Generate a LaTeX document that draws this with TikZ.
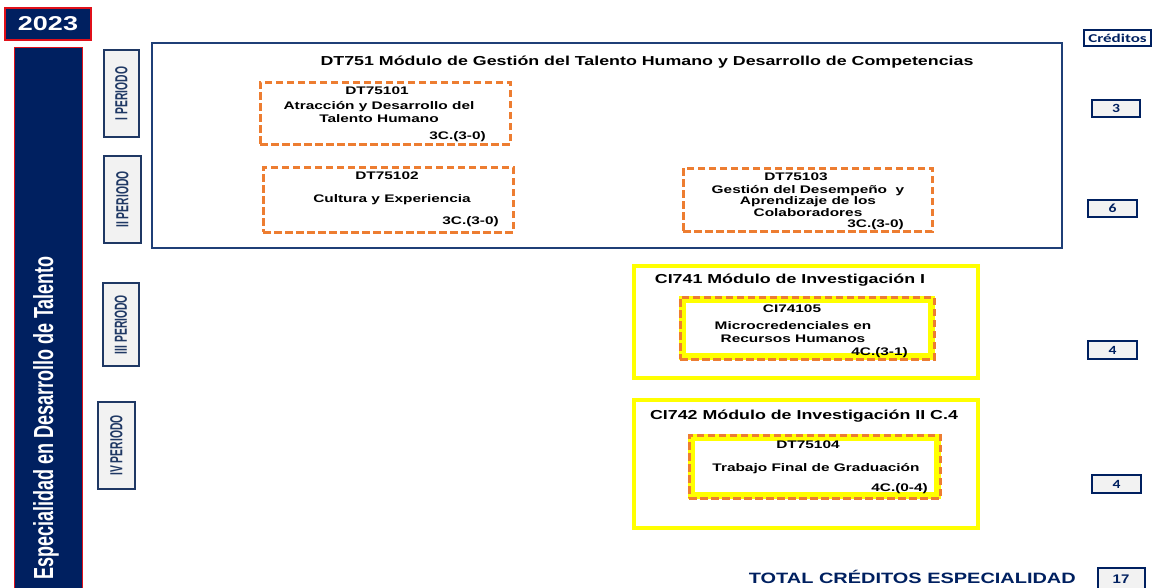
\documentclass[tikz,border=0pt]{standalone}
\usepackage{fontspec}
\usepackage{graphicx}
\setmainfont{Liberation Sans}
\newfontfamily\calfont{Carlito}
\definecolor{navy}{HTML}{002060}
\definecolor{boxblue}{HTML}{1F3F77}
\definecolor{perborder}{HTML}{1F3864}
\definecolor{orng}{HTML}{ED7D31}
\definecolor{yell}{HTML}{FFFF00}
\definecolor{lgray}{HTML}{F2F2F2}
\definecolor{bannerred}{HTML}{E0101A}
\newcommand\wtxt[2][1.4]{\scalebox{#1}[1]{\begin{tabular}{@{}c@{}}#2\end{tabular}}}
\newcommand\vtxt[1]{\scalebox{0.86}[1.45]{#1}}
\tikzset{
  box/.style={anchor=north west, inner sep=0pt, outer sep=0pt},
  perbox/.style={box, draw=perborder, fill=lgray, line width=1.2pt},
  credbox/.style={box, draw=navy, fill=lgray, line width=1.8pt},
  orbox/.style={box, draw=orng, line width=3pt, dash pattern=on 7.5pt off 3.5pt},
  yelbox/.style={box, draw=yell, line width=3.8pt},
  innerbg/.style={box, draw=yell, line width=7pt},
  txt/.style={inner sep=0pt, font=\bfseries\fontsize{11}{13}\selectfont, text=black},
  ttl/.style={inner sep=0pt, font=\bfseries\fontsize{13}{15}\selectfont, text=black},
  pertxt/.style={inner sep=0pt, rotate=90, font=\bfseries\fontsize{12}{14}\selectfont, text=perborder},
  credtxt/.style={inner sep=0pt, font=\calfont\bfseries\fontsize{12.5}{14}\selectfont, text=navy},
}
\begin{document}
\begin{tikzpicture}[x=1pt,y=-1pt]
\useasboundingbox (0,0) rectangle (1154,587);
% year and banner
\node[box, draw=bannerred, fill=navy, line width=1.2pt, minimum width=86pt, minimum height=32pt] (year) at (5,8) {};
\node[inner sep=0pt, text=white, font=\bfseries\fontsize{20}{22}\selectfont] (yeart) at (year.center) {\scalebox{1.35}[1]{2023}};
\node[box, draw=bannerred, fill=navy, line width=0.8pt, minimum width=68pt, minimum height=545pt] (banner) at (14,47) {};
\node[inner sep=0pt, rotate=90, anchor=west, text=white, font=\bfseries\fontsize{20}{22}\selectfont] (bannert) at (46,580) {\scalebox{0.9}[1.38]{Especialidad en Desarrollo de Talento}};
% periods
\node[perbox, minimum width=35pt, minimum height=87pt] (p1) at (104,50) {};
\node[pertxt] (p1t) at (p1.center) {\vtxt{I PERIODO}};
\node[perbox, minimum width=37pt, minimum height=87pt] (p2) at (104,156) {};
\node[pertxt] (p2t) at (p2.center) {\vtxt{II PERIODO}};
\node[perbox, minimum width=36pt, minimum height=83pt] (p3) at (103,283) {};
\node[pertxt] (p3t) at (p3.center) {\vtxt{III PERIODO}};
\node[perbox, minimum width=37pt, minimum height=87pt] (p4) at (98,402) {};
\node[pertxt] (p4t) at (p4.center) {\vtxt{IV PERIODO}};
% module DT751
\node[box, draw=boxblue, line width=2.8pt, minimum width=910pt, minimum height=205pt] (m1) at (152,43) {};
\node[ttl] (m1t) at (647,62) {\wtxt[1.37]{DT751 Módulo de Gestión del Talento Humano y Desarrollo de Competencias}};
% DT75101
\node[orbox, minimum width=250pt, minimum height=62pt] (c1) at (260,82) {};
\node[txt] (c1a) at (377,92) {\wtxt{DT75101}};
\node[txt] (c1b) at (379,113.5) {\wtxt{Atracción y Desarrollo del\\Talento Humano}};
\node[txt, anchor=east] (c1c) at (486,137) {\wtxt{3C.(3-0)}};
% DT75102
\node[orbox, minimum width=250pt, minimum height=65pt] (c2) at (263,167) {};
\node[txt] (c2a) at (387,177) {\wtxt{DT75102}};
\node[txt] (c2b) at (392,200) {\wtxt{Cultura y Experiencia}};
\node[txt, anchor=east] (c2c) at (499,222) {\wtxt{3C.(3-0)}};
% DT75103
\node[orbox, minimum width=249pt, minimum height=63pt] (c3) at (683,168) {};
\node[txt] (c3a) at (796,178) {\wtxt{DT75103}};
\node[txt] (c3b) at (808,202) {\wtxt{Gestión del Desempeño~ y\\[-1.5pt]Aprendizaje de los\\[-1.5pt]Colaboradores}};
\node[txt, anchor=east] (c3c) at (904,225) {\wtxt{3C.(3-0)}};
% CI741
\node[yelbox, minimum width=344pt, minimum height=112pt] (m2) at (634,266) {};
\node[ttl] (m2t) at (790,280) {\wtxt[1.37]{CI741 Módulo de Investigación I}};
\node[innerbg, minimum width=249pt, minimum height=57pt] (c4bg) at (682.5,299.5) {};
\node[orbox, minimum width=254pt, minimum height=62pt] (c4) at (680,297) {};
\node[txt] (c4a) at (792,310) {\wtxt{CI74105}};
\node[txt] (c4b) at (793,333.5) {\wtxt{Microcredenciales en\\Recursos Humanos}};
\node[txt, anchor=east] (c4c) at (908,353) {\wtxt{4C.(3-1)}};
% CI742
\node[yelbox, minimum width=344pt, minimum height=128pt] (m3) at (634,400) {};
\node[ttl] (m3t) at (804,416) {\wtxt[1.37]{CI742 Módulo de Investigación II C.4}};
\node[innerbg, minimum width=246pt, minimum height=58pt] (c5bg) at (691.5,437.5) {};
\node[orbox, minimum width=251pt, minimum height=63pt] (c5) at (689,435) {};
\node[txt] (c5a) at (808,446) {\wtxt{DT75104}};
\node[txt] (c5b) at (816,469) {\wtxt{Trabajo Final de Graduación}};
\node[txt, anchor=east] (c5c) at (928,489) {\wtxt{4C.(0-4)}};
% credits
\node[box, draw=navy, line width=1.2pt, minimum width=67pt, minimum height=16pt] (cr) at (1084,30) {};
\node[inner sep=0pt, font=\calfont\bfseries\fontsize{12}{14}\selectfont, text=navy] (crt) at (cr.center) {\scalebox{1.42}[1]{Créditos}};
\node[credbox, minimum width=48pt, minimum height=17pt] (k1) at (1092,100) {};
\node[credtxt] (k1t) at (k1.center) {\scalebox{1.25}[1]{3}};
\node[credbox, minimum width=49pt, minimum height=17pt] (k2) at (1088,200) {};
\node[credtxt] (k2t) at (k2.center) {\scalebox{1.25}[1]{6}};
\node[credbox, minimum width=49pt, minimum height=18pt] (k3) at (1088,341) {};
\node[credtxt] (k3t) at (k3.center) {\scalebox{1.25}[1]{4}};
\node[credbox, minimum width=49pt, minimum height=18pt] (k4) at (1092,475) {};
\node[credtxt] (k4t) at (k4.center) {\scalebox{1.25}[1]{4}};
\node[credbox, minimum width=47pt, minimum height=25pt] (k5) at (1098,568) {};
\node[inner sep=0pt, font=\bfseries\fontsize{12.5}{15}\selectfont, text=navy] (k5t) at (1121,579) {\scalebox{1.2}[1]{17}};
\node[inner sep=0pt, anchor=east, font=\bfseries\fontsize{15}{17}\selectfont, text=navy] (tot) at (1076,577) {\scalebox{1.33}[1]{TOTAL CRÉDITOS ESPECIALIDAD}};
\end{tikzpicture}
\end{document}
